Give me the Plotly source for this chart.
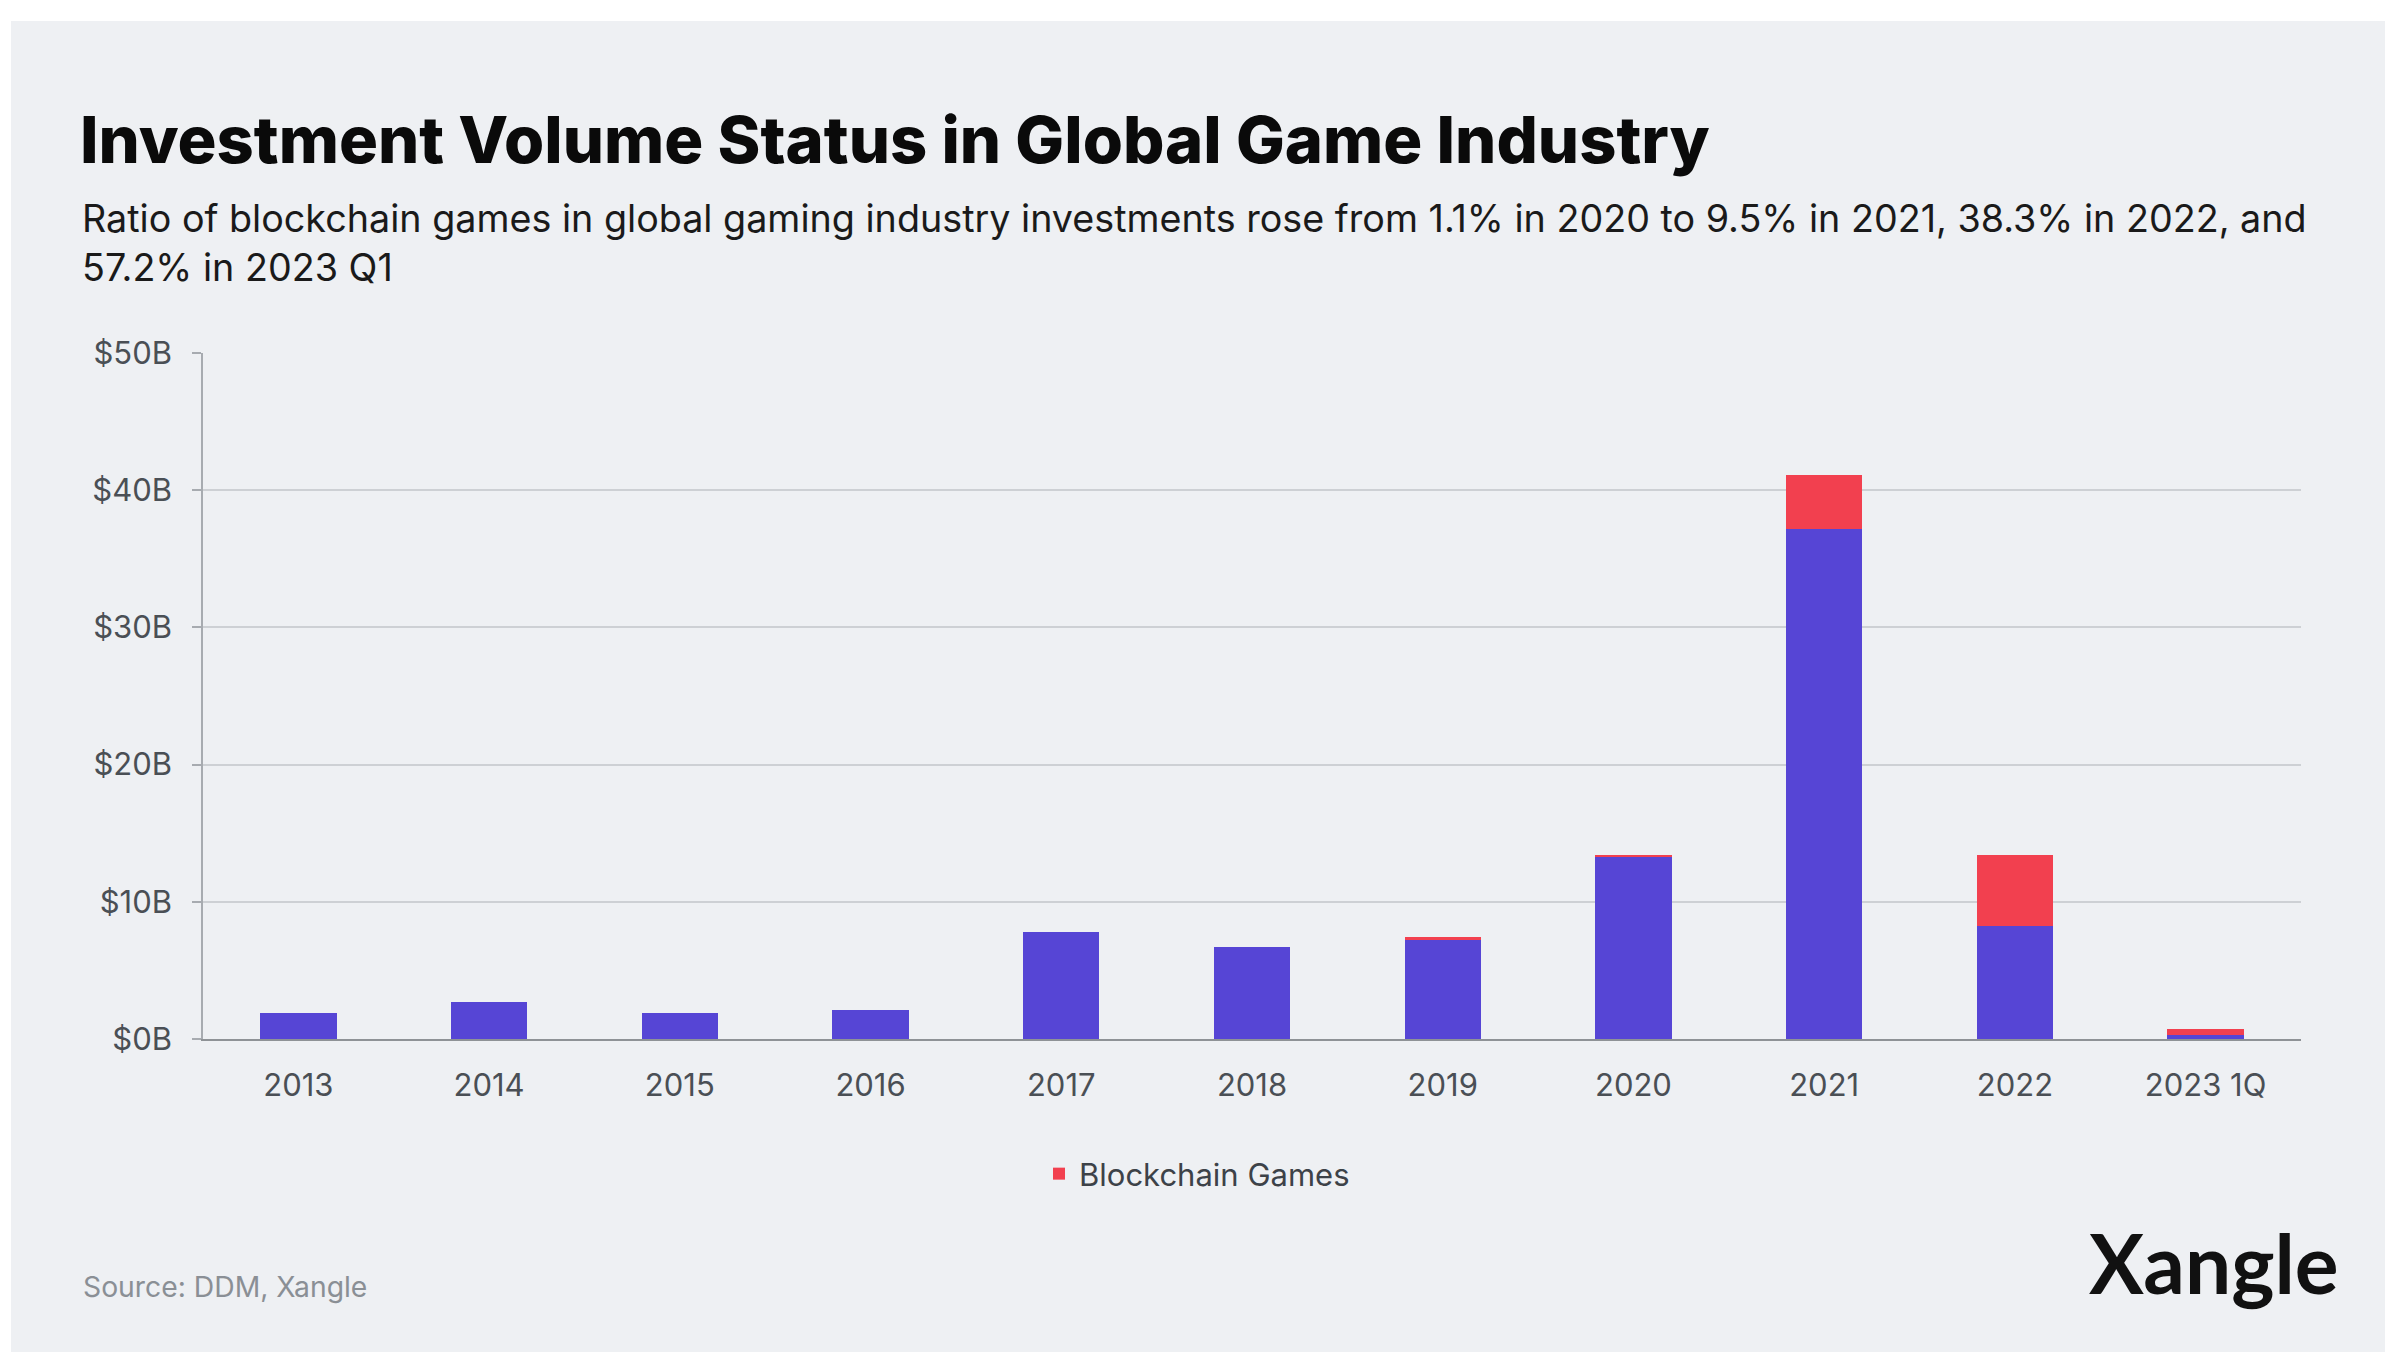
import plotly.graph_objects as go

# Global game industry investment volume, $B
categories = ["2013", "2014", "2015", "2016", "2017", "2018", "2019",
              "2020", "2021", "2022", "2023 1Q"]
other_games = [1.93, 2.72, 1.93, 2.08, 7.82, 6.73, 7.23, 13.23, 37.2, 8.27, 0.31]
blockchain_games = [0.0, 0.0, 0.0, 0.0, 0.0, 0.0, 0.23, 0.15, 3.9, 5.13, 0.41]
y_ticks = [0, 10, 20, 30, 40, 50]
y_tick_labels = [f"${v}B" for v in y_ticks]

W, H = 2385, 1352
L, R, T, B = 203, 84, 353, 313
PW, PH = W - L - R, H - T - B

PURPLE = "#5645D5"
RED = "#F2404F"
BG = "#EEF0F3"


def px(x):
    return (x - L) / PW


def py(y):
    return (H - B - y) / PH


fig = go.Figure()
fig.add_trace(go.Bar(
    x=categories, y=other_games, name="Other Games",
    marker=dict(color=PURPLE, line=dict(width=0)), showlegend=False,
))
fig.add_trace(go.Bar(
    x=categories, y=blockchain_games, name="Blockchain Games",
    marker=dict(color=RED, line=dict(width=0)), showlegend=True,
))

fig.update_layout(
    width=W, height=H,
    margin=dict(l=L, r=R, t=T, b=B),
    barmode="stack", bargap=0.6,
    paper_bgcolor=BG, plot_bgcolor=BG,
    font=dict(family="Inter, Roboto, sans-serif", color="#4a4f55"),
    legend=dict(
        orientation="h", x=px(1197), y=py(1174), xanchor="center", yanchor="middle",
        font=dict(size=31, color="#3d4248"), bgcolor="rgba(0,0,0,0)",
    ),
    xaxis=dict(
        type="category", showgrid=False, showline=True, linecolor="#8e9296",
        linewidth=2, ticks="", tickfont=dict(size=31, color="#4a4f55"),
        ticklabelstandoff=18,
    ),
    yaxis=dict(
        range=[0, 50], tickmode="array", tickvals=y_ticks, ticktext=y_tick_labels,
        showgrid=True, gridcolor="#cdd0d4", gridwidth=1.5,
        zeroline=False, showline=True, linecolor="#a7abb0", linewidth=1.5,
        ticks="outside", ticklen=9, tickcolor="#a7abb0", tickwidth=1.5,
        tickfont=dict(size=31, color="#4a4f55"), ticklabelstandoff=14,
    ),
    shapes=[
        # white frame strips along the top and left edges
        dict(type="rect", xref="paper", yref="paper", x0=px(0), x1=px(W),
             y0=py(21), y1=py(0), fillcolor="white", line=dict(width=0), layer="below"),
        dict(type="rect", xref="paper", yref="paper", x0=px(0), x1=px(11),
             y0=py(H), y1=py(0), fillcolor="white", line=dict(width=0), layer="below"),
    ],
    annotations=[
        dict(text="Investment Volume Status in Global Game Industry",
             xref="paper", yref="paper", x=px(78), y=py(140), xanchor="left",
             yanchor="middle", showarrow=False,
             font=dict(size=65, color="#0a0a0a", family="Inter, sans-serif", weight=800)),
        dict(text="Ratio of blockchain games in global gaming industry investments rose from "
                  "1.1% in 2020 to 9.5% in 2021, 38.3% in 2022, and<br>57.2% in 2023 Q1",
             xref="paper", yref="paper", x=px(80), y=py(243), xanchor="left",
             yanchor="middle", align="left", showarrow=False,
             font=dict(size=37.7, color="#1a1a1a", family="Inter, sans-serif")),
        dict(text="Source: DDM, Xangle", xref="paper", yref="paper",
             x=px(81), y=py(1287), xanchor="left", yanchor="middle", showarrow=False,
             font=dict(size=28.3, color="#8a8f95")),
        dict(text="<b>Xangle</b>", xref="paper", yref="paper",
             x=px(2341), y=py(1262), xanchor="right", yanchor="middle", showarrow=False,
             font=dict(size=82, color="#111111", family="Lato, Inter, sans-serif")),
    ],
)

fig.write_html("out.html")
